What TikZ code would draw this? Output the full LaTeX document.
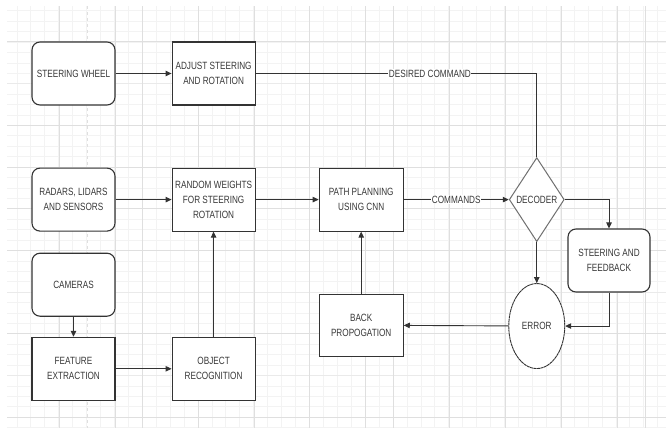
\documentclass[tikz,border=0pt]{standalone}
\usepackage{fontspec}
\setmainfont{Liberation Sans}[FakeStretch=0.78]
\usepackage{xcolor}
\usetikzlibrary{positioning,arrows.meta,shapes.geometric}
\definecolor{flowline}{HTML}{333333}
\definecolor{flowtext}{HTML}{383838}
\definecolor{decline}{HTML}{707070}
\definecolor{gridminor}{HTML}{F3F3F3}
\definecolor{gridmid}{HTML}{EAEAEA}
\definecolor{gridmajor}{HTML}{DFDFDF}

\begin{document}
\begin{tikzpicture}[x=1pt,y=-1pt,
  txt/.style={font=\fontsize{10.5}{15}\selectfont,text=flowtext,align=center},
  rbox/.style={txt,draw=flowline,line width=1.1pt,rounded corners=8pt,fill=white,minimum width=83pt,minimum height=63pt,inner sep=1pt},
  sbox/.style={txt,draw=flowline,line width=1.1pt,fill=white,minimum width=83pt,minimum height=63pt,inner sep=1pt},
  dec/.style={draw=decline,line width=1pt,diamond,fill=white,minimum width=55pt,minimum height=84pt,inner sep=0pt},
  err/.style={txt,draw=flowline,line width=0.9pt,dash pattern=on 3pt off 0.5pt,ellipse,fill=white,minimum width=56pt,minimum height=85pt,inner sep=0pt},
  arr/.style={-{Triangle[length=6pt,width=5.5pt]},flowline,line width=0.9pt},
  lbl/.style={txt,fill=white,inner sep=0.5pt}
]
\useasboundingbox (0,0) rectangle (666,428);
\fill[white] (0,0) rectangle (666,428);

% background grid
\begin{scope}
\clip (7,7) rectangle (666,428);
\foreach \i in {1,...,47} \draw[gridminor,line width=0.6pt] ({2.9+13.93*\i},0) -- ++(0,428);
\foreach \j in {1,...,41} \draw[gridminor,line width=0.6pt] (0,{0.3+10.42*\j}) -- ++(666,0);
\foreach \gy in {83,292,375} \draw[gridmid,line width=0.8pt] (0,\gy) -- ++(666,0);
\foreach \gy in {42,125,167,208,250,333,417} \draw[gridmajor,line width=1pt] (0,\gy) -- ++(666,0);
\foreach \gx in {59,115,142,198,254,309,365,393,449,505,561,617,645} \draw[gridmajor,line width=0.8pt] (\gx,0) -- ++(0,428);
\draw[gridmajor,line width=0.8pt,dashed] (87,0) -- ++(0,428);
\end{scope}

% nodes
\node[rbox] (wheel) at (73.5,73.5) {STEERING WHEEL};
\node[sbox,right=56pt of wheel] (adjust) {ADJUST STEERING\\AND ROTATION};
\node[rbox,below=62pt of wheel] (sensors) {RADARS, LIDARS\\AND SENSORS};
\node[sbox,right=56pt of sensors] (weights) {RANDOM WEIGHTS\\FOR STEERING\\ROTATION};
\node[rbox,below=21pt of sensors] (cameras) {CAMERAS};
\node[sbox,below=20pt of cameras] (feature) {FEATURE\\EXTRACTION};
\node[sbox,right=56pt of feature] (object) {OBJECT\\RECOGNITION};
\node[sbox,right=63pt of weights,minimum width=84pt] (path) {PATH PLANNING\\USING CNN};
\node[sbox,below=62pt of path,minimum width=84pt,minimum height=62pt] (backprop) {BACK\\PROPOGATION};
\node[dec,right=105pt of path,label={[txt]center:DECODER}] (decoder) {};
\node[err,below=41pt of decoder] (error) {ERROR};
\node[rbox,minimum width=82pt] (feedback) at (609,260.5) {STEERING AND\\FEEDBACK};

% connectors
\draw[arr] (wheel) -- (adjust);
\draw[arr] (sensors) -- (weights);
\draw[arr] (cameras) -- (feature);
\draw[arr] (feature) -- (object);
\draw[arr] (object) -- (weights);
\draw[arr] (weights) -- (path);
\draw[arr] (backprop) -- (path);
\draw[arr] (path) -- node[lbl] {COMMANDS} (decoder);
\draw[flowline,line width=0.9pt] (adjust) -- node[lbl,pos=0.62] {DESIRED COMMAND} (adjust -| decoder) -- (decoder.north);
\draw[arr] (decoder) -| (feedback);
\draw[arr] (decoder) -- (error);
\draw[arr] (feedback) |- (error);
\draw[arr] (error) -- (backprop);
\end{tikzpicture}
\end{document}
